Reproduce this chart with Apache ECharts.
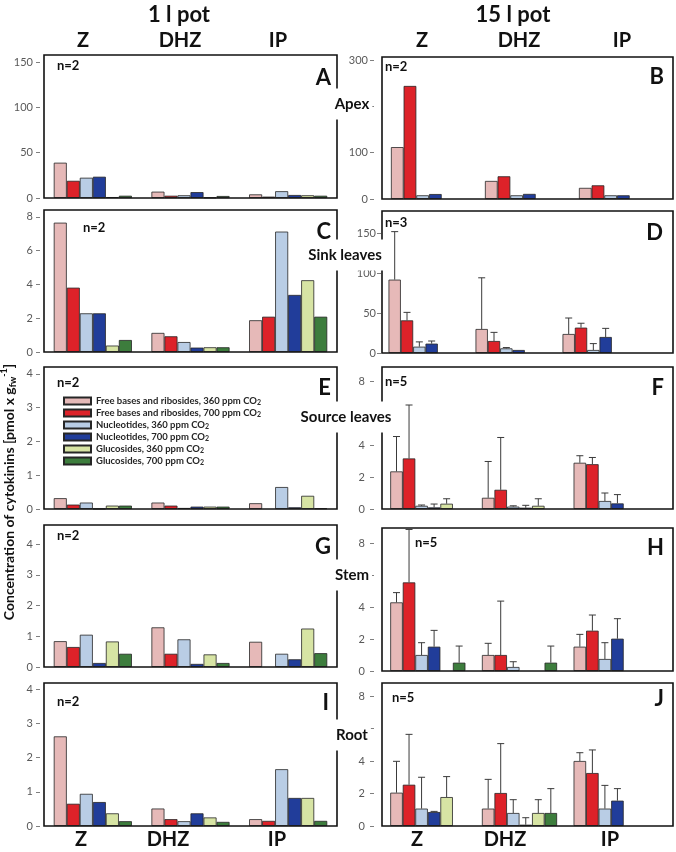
<!DOCTYPE html>
<html><head><meta charset="utf-8">
<script src="https://cdn.jsdelivr.net/npm/echarts@6/dist/echarts.min.js"></script>
<style>html,body{margin:0;padding:0;background:#fff}#c{width:676px;height:852px}</style>
</head><body><div id="c"></div>
<script>
// ---------------- DATA ----------------
const categories = ['Z', 'DHZ', 'IP'];
const seriesNames = [
  'Free bases and ribosides, 360 ppm CO2',
  'Free bases and ribosides, 700 ppm CO2',
  'Nucleotides, 360 ppm CO2',
  'Nucleotides, 700 ppm CO2',
  'Glucosides, 360 ppm CO2',
  'Glucosides, 700 ppm CO2'
];
const seriesColors = ['#E6B9B8', '#DD2229', '#B9CDE5', '#213D9A', '#D7E4A4', '#3D7D3D'];

// each panel: rows = series (in seriesNames order), columns = categories
// 1 l pot
const A_vals = [[39, 7, 4], [19, 2.5, 1.5], [22.4, 3, 7.5], [23.5, 6.5, 3.3], [1, 0.5, 3], [2.5, 2.2, 2.5]];
const C_vals = [[7.66, 1.13, 1.88], [3.81, 0.93, 2.09], [2.29, 0.59, 7.13], [2.29, 0.26, 3.38], [0.38, 0.28, 4.25], [0.71, 0.28, 2.09]];
const E_vals = [[0.32, 0.19, 0.17], [0.13, 0.1, null], [0.19, 0.03, 0.65], [0.01, 0.07, 0.05], [0.1, 0.07, 0.39], [0.1, 0.07, 0.02]];
const G_vals = [[0.84, 1.29, 0.82], [0.65, 0.43, null], [1.05, 0.9, 0.43], [0.13, 0.1, 0.25], [0.83, 0.41, 1.25], [0.43, 0.13, 0.45]];
const I_vals = [[2.62, 0.51, 0.2], [0.65, 0.2, 0.15], [0.94, 0.14, 1.66], [0.70, 0.37, 0.82], [0.37, 0.25, 0.82], [0.14, 0.12, 0.15]];
// 15 l pot
const B_vals = [[112, 39, 24], [244, 49, 29.5], [8, 8, 8], [10.7, 11, 8], [null, null, null], [null, null, null]];
const D_vals = [[91.7, 30, 23.75], [40.8, 15, 31.7], [7.9, 5.8, 3.75], [11.7, 3.75, 20], [null, null, null], [null, null, null]];
const D_err  = [[60, 64, 20], [10, 10.8, 5.5], [6, 1, 8], [3.3, 0, 10.8], [0, 0, 0], [0, 0, 0]];
const F_vals = [[2.35, 0.7, 2.89], [3.16, 1.2, 2.8], [0.2, 0.15, 0.5], [0.1, 0.08, 0.35], [0.33, 0.2, null], [null, null, null]];
const F_err  = [[2.18, 2.27, 0.44], [3.34, 3.27, 0.42], [0.05, 0.05, 0.5], [0.21, 0.15, 0.55], [0.31, 0.44, 0], [0, 0, 0]];
const H_vals = [[4.29, 1.0, 1.52], [5.54, 1.0, 2.52], [1.0, 0.25, 0.75], [1.52, null, 2.02], [null, null, null], [0.52, 0.52, null]];
const H_err  = [[0.61, 0.73, 0.77], [3.31, 3.37, 0.98], [0.77, 0.33, 1.02], [1.02, 0, 1.25], [0, 0, 0], [1.04, 1.04, 0]];
const J_vals = [[2.05, 1.07, 4.0], [2.54, 2.03, 3.26], [1.07, 0.8, 1.07], [0.86, 0.08, 1.56], [1.78, 0.8, null], [null, 0.8, null]];
const J_err  = [[1.93, 1.8, 0.51], [3.1, 3.04, 1.42], [1.93, 0.82, 1.43], [0.04, 0.43, 0.74], [1.26, 0.82, 0], [0, 1.5, 0]];

// tick labels
const ticksA = [0, 50, 100, 150];
const ticksB = [0, 100, 200, 300];
const ticksC = [0, 2, 4, 6, 8];
const ticksD = [0, 50, 100, 150];
const ticks4 = [0, 1, 2, 3, 4];
const ticks8 = [0, 2, 4, 6, 8];

const nLabels = { A: 'n=2', B: 'n=2', C: 'n=2', D: 'n=3', E: 'n=2', F: 'n=5', G: 'n=2', H: 'n=5', I: 'n=2', J: 'n=5' };
const rowLabels = ['Apex', 'Sink leaves', 'Source leaves', 'Stem', 'Root'];
const potLabels = ['1 l pot', '15 l pot'];

// ---------------- LAYOUT ----------------
const FONT = 'Lato, "Open Sans", sans-serif';
const panels = [
  { id: 'A', vals: A_vals, err: null,  left: 44,  top: 55,  width: 293, boxW: 293, height: 143, max: 158,   ticks: ticksA, gap: '20%', offset: 4, margin: 7 },
  { id: 'B', vals: B_vals, err: null,  left: 382, top: 57,  width: 282, boxW: 291, height: 142, max: 306.5, ticks: ticksB, gap: '19%', offset: 8, margin: 6 },
  { id: 'C', vals: C_vals, err: null,  left: 44,  top: 210, width: 293, boxW: 293, height: 142, max: 8.41,  ticks: ticksC, gap: '20%', offset: 4, margin: 7 },
  { id: 'D', vals: D_vals, err: D_err, left: 382, top: 211, width: 261, boxW: 291, height: 142, max: 177.5, ticks: ticksD, gap: '15%', offset: 1, margin: 5 },
  { id: 'E', vals: E_vals, err: null,  left: 44,  top: 367, width: 293, boxW: 293, height: 142, max: 4.2,   ticks: ticks4, gap: '20%', offset: 4, margin: 7 },
  { id: 'F', vals: F_vals, err: F_err, left: 382, top: 367, width: 275, boxW: 291, height: 142, max: 8.875, ticks: ticks8, gap: '18%', offset: 8, margin: 9 },
  { id: 'G', vals: G_vals, err: null,  left: 44,  top: 525, width: 293, boxW: 293, height: 142, max: 4.62,  ticks: ticks4, gap: '20%', offset: 4, margin: 7 },
  { id: 'H', vals: H_vals, err: H_err, left: 382, top: 528, width: 275, boxW: 291, height: 143, max: 8.94,  ticks: ticks8, gap: '18%', offset: 8, margin: 9 },
  { id: 'I', vals: I_vals, err: null,  left: 44,  top: 683, width: 293, boxW: 293, height: 143, max: 4.18,  ticks: ticks4, gap: '20%', offset: 4, margin: 7 },
  { id: 'J', vals: J_vals, err: J_err, left: 382, top: 683, width: 275, boxW: 291, height: 143, max: 8.8,   ticks: ticks8, gap: '18%', offset: 8, margin: 9 }
];
const letterPos = { A: [331, 78], B: [664, 77], C: [331, 232], D: [663, 233], E: [331, 388], F: [664, 388], G: [331, 547], H: [664, 548], I: [329, 703], J: [664, 699] };
const nPos = { A: [57, 66], B: [385, 67], C: [83, 228], D: [385, 223], E: [57, 383], F: [385, 382], G: [57, 536], H: [415, 543], I: [57, 702], J: [392, 698] };
const rowLabelPos = [[352, 104], [345, 255], [346, 417], [352, 575], [352, 735]];
const potPos = [[179, 15], [513, 15]];
const topCatX = [[83, 180, 278], [422, 519, 622]];
const botCatX = [[81, 168, 277], [417, 505, 610]];

// ---------------- OPTION ----------------
const grid = [], xAxis = [], yAxis = [], series = [], graphic = [];

function errRenderer(sIdx, gapFrac) {
  return function (params, api) {
    const c = api.value(0), v = api.value(1), e = api.value(2);
    const base = api.coord([c, v]);
    const top = api.coord([c, v + e]);
    const band = api.size([1, 0])[0];
    const groupW = band * (1 - gapFrac);
    const bw = groupW / 6;
    const cx = base[0] - groupW / 2 + (sIdx + 0.5) * bw;
    const st = { stroke: '#3a3a3a', lineWidth: 1 };
    return {
      type: 'group',
      children: [
        { type: 'line', shape: { x1: cx, y1: base[1], x2: cx, y2: top[1] }, style: st },
        { type: 'line', shape: { x1: cx - 3.5, y1: top[1], x2: cx + 3.5, y2: top[1] }, style: st }
      ]
    };
  };
}

panels.forEach((p, k) => {
  grid.push({ left: p.left, top: p.top, width: p.width, height: p.height, containLabel: false });
  xAxis.push({
    type: 'category', gridIndex: k, data: categories,
    axisLine: { show: false }, axisTick: { show: false }, axisLabel: { show: false }
  });
  yAxis.push({
    type: 'value', gridIndex: k, min: 0, max: p.max,
    offset: p.offset,
    axisLine: { show: false },
    splitLine: { show: false },
    axisTick: { show: true, length: 4, customValues: p.ticks, lineStyle: { color: '#7f7f7f', width: 1 } },
    axisLabel: { show: true, customValues: p.ticks, margin: p.margin, color: '#595959', fontSize: 11, fontFamily: FONT }
  });
  const gapFrac = parseFloat(p.gap) / 100;
  p.vals.forEach((arr, i) => {
    series.push({
      name: seriesNames[i], type: 'bar', xAxisIndex: k, yAxisIndex: k,
      data: arr, barGap: '0%', barCategoryGap: p.gap,
      itemStyle: { color: seriesColors[i], borderColor: '#262626', borderWidth: 0.8 },
      emphasis: { disabled: true }, animation: false, z: 2
    });
  });
  if (p.err) {
    p.err.forEach((earr, i) => {
      const d = [];
      earr.forEach((e, c) => { if (e > 0 && p.vals[i][c] != null) d.push([c, p.vals[i][c], e]); });
      series.push({
        type: 'custom', xAxisIndex: k, yAxisIndex: k, data: d,
        renderItem: errRenderer(i, gapFrac), animation: false, z: 3, silent: true
      });
    });
  }
  graphic.push({
    type: 'rect', z: 50, silent: true,
    shape: { x: p.left, y: p.top, width: p.boxW, height: p.height },
    style: { fill: 'none', stroke: '#111', lineWidth: 1.6 }
  });
  graphic.push({
    type: 'text', z: 60, x: letterPos[p.id][0], y: letterPos[p.id][1],
    style: { text: p.id, font: 'bold 22px ' + FONT, fill: '#111', align: 'right', verticalAlign: 'middle' }
  });
  graphic.push({
    type: 'text', z: 60, x: nPos[p.id][0], y: nPos[p.id][1],
    style: { text: nLabels[p.id], font: 'bold 13px ' + FONT, fill: '#111', align: 'left', verticalAlign: 'middle' }
  });
});

rowLabels.forEach((t, r) => {
  graphic.push({
    type: 'text', z: 100, x: rowLabelPos[r][0], y: rowLabelPos[r][1],
    style: { text: t, font: 'bold 15px ' + FONT, fill: '#111', align: 'center', verticalAlign: 'middle', backgroundColor: '#fff', padding: [9, 3, 7, 3] }
  });
});
potLabels.forEach((t, c) => {
  graphic.push({
    type: 'text', z: 60, x: potPos[c][0], y: potPos[c][1],
    style: { text: t, font: 'bold 22px ' + FONT, fill: '#111', align: 'center', verticalAlign: 'middle' }
  });
  categories.forEach((cat, j) => {
    graphic.push({
      type: 'text', z: 60, x: topCatX[c][j], y: 41,
      style: { text: cat, font: 'bold 20px ' + FONT, fill: '#111', align: 'center', verticalAlign: 'middle' }
    });
    graphic.push({
      type: 'text', z: 60, x: botCatX[c][j], y: 840,
      style: { text: cat, font: 'bold 20px ' + FONT, fill: '#111', align: 'center', verticalAlign: 'middle' }
    });
  });
});
graphic.push({
  type: 'text', z: 60, x: 9, y: 492, rotation: Math.PI / 2,
  style: {
    text: 'Concentration of cytokinins [pmol x g{sub|fw}{sup|-1}]',
    font: 'bold 14px ' + FONT, fill: '#111', align: 'center', verticalAlign: 'middle',
    rich: {
      sub: { fontSize: 9, fontWeight: 'bold', fontFamily: FONT, fill: '#111', verticalAlign: 'bottom', lineHeight: 18 },
      sup: { fontSize: 9, fontWeight: 'bold', fontFamily: FONT, fill: '#111', verticalAlign: 'top', lineHeight: 18 }
    }
  }
});

const option = {
  backgroundColor: '#fff',
  animation: false,
  grid, xAxis, yAxis, series, graphic,
  legend: {
    data: seriesNames, orient: 'vertical', left: 58, top: 391,
    itemWidth: 27, itemHeight: 7, itemGap: 2, icon: 'rect', selectedMode: false,
    formatter: n => n.replace('CO2', 'CO{s|2}'),
    textStyle: {
      fontFamily: FONT, fontSize: 9.5, fontWeight: 'bold', color: '#262626', lineHeight: 10,
      rich: { s: { fontFamily: FONT, fontSize: 7, fontWeight: 'bold', color: '#262626', verticalAlign: 'bottom', lineHeight: 10 } }
    }
  }
};
const chart = echarts.init(document.getElementById('c'));
chart.setOption(option);
</script></body></html>
